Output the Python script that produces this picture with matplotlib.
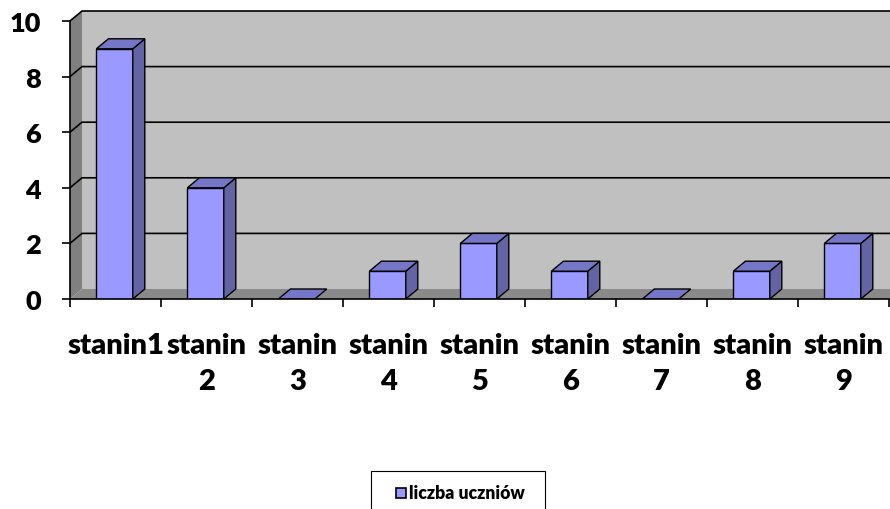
import matplotlib
matplotlib.use("Agg")
import matplotlib.pyplot as plt
from matplotlib.patches import Polygon, Rectangle

plt.rcParams['font.family'] = ['Lato', 'DejaVu Sans']
plt.rcParams['font.weight'] = 'heavy'

# dane
kategorie = ['stanin1', 'stanin\n2', 'stanin\n3', 'stanin\n4', 'stanin\n5',
             'stanin\n6', 'stanin\n7', 'stanin\n8', 'stanin\n9']
liczba_uczniow = [9, 4, 0, 1, 2, 1, 0, 1, 2]
y_ticks = [0, 2, 4, 6, 8, 10]
seria = 'liczba uczniów'

W, H = 890, 510
fig = plt.figure(figsize=(W / 100, H / 100), dpi=100)

# osie: front plane x 70..890 px, y 12..300 px
px_cat = 91.0
px_val = 27.8
ax = fig.add_axes([70 / W, 1 - 300 / H, 820 / W, 288 / H])
xmax = 820 / px_cat
ax.set_xlim(0, xmax)
ax.set_ylim(0, 288 / px_val)
ax.patch.set_visible(False)

dx = 12 / px_cat   # glebia 3D
dy = 10 / px_val
n = len(liczba_uczniow)

# sciany
ax.add_patch(Polygon([(0, 0), (0, 10), (dx, 10 + dy), (dx, dy)], closed=True,
                     fc='#808080', ec='none', zorder=0, clip_on=False))
ax.add_patch(Polygon([(dx, dy), (dx, 10 + dy), (xmax, 10 + dy), (xmax, dy)], closed=True,
                     fc='#C0C0C0', ec='none', zorder=0, clip_on=False))
ax.add_patch(Polygon([(0, 0), (dx, dy), (xmax, dy), (xmax, 0)], closed=True,
                     fc='#8A8A8A', ec='none', zorder=0, clip_on=False))

# siatka
for v in y_ticks[1:]:
    ax.plot([0, dx, xmax], [v, v + dy, v + dy], color='black', lw=1.2, zorder=1,
            clip_on=False, solid_capstyle='butt')

# slupki
x0 = 0.29
bw = 0.40
for i, val in enumerate(liczba_uczniow):
    l = i + x0
    r = l + bw
    if val > 0:
        ax.add_patch(Polygon([(l, 0), (r, 0), (r, val), (l, val)], closed=True,
                             fc='#9999FF', ec='black', lw=1, zorder=3))
        ax.add_patch(Polygon([(r, 0), (r + dx, dy), (r + dx, val + dy), (r, val)], closed=True,
                             fc='#6464A4', ec='black', lw=1, zorder=3))
    ax.add_patch(Polygon([(l, val), (r, val), (r + dx, val + dy), (l + dx, val + dy)], closed=True,
                         fc='#7676C8', ec='black', lw=1, zorder=3))

# osie
for s in ['top', 'right']:
    ax.spines[s].set_visible(False)
ax.spines['left'].set_bounds(0, 10)
ax.spines['bottom'].set_bounds(0, n)
ax.spines['left'].set_linewidth(1.2)
ax.spines['bottom'].set_linewidth(1.2)
ax.spines['left'].set_zorder(5)
ax.spines['bottom'].set_zorder(5)

ax.set_yticks(y_ticks)
ax.set_yticklabels([str(v) for v in y_ticks], fontsize=19.5, fontweight='heavy')
ax.tick_params(axis='y', length=6, width=1.2, pad=15)

ax.set_xticks(range(n + 1))
ax.set_xticklabels([])
ax.tick_params(axis='x', which='major', length=6, width=1.2)
ax.set_xticks([i + 0.5 for i in range(n)], minor=True)
ax.set_xticklabels(kategorie, minor=True, fontsize=21, fontweight='heavy', linespacing=1.45)
ax.tick_params(axis='x', which='minor', length=0, pad=24)

# legenda
fig.add_artist(Rectangle((371 / W, 1 - 518 / H), 174 / W, 46 / H, transform=fig.transFigure,
                         fill=False, ec='black', lw=0.8, clip_on=False))
fig.add_artist(Rectangle((396 / W, 1 - 499 / H), 10 / W, 10 / H, transform=fig.transFigure,
                         fc='#9999FF', ec='black', lw=1.2))
fig.text(409 / W, 1 - 494 / H, seria, fontsize=12.7, fontweight='heavy', va='center', ha='left')

fig.savefig('out.png', dpi=100)
